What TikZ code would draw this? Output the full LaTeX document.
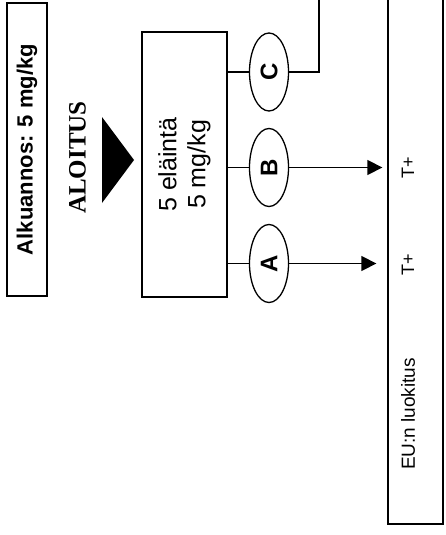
\documentclass[tikz,border=0pt]{standalone}
\usepackage{fontspec}
\setmainfont{Liberation Sans}
\newfontfamily\timesfont{Liberation Serif}
\usetikzlibrary{arrows.meta, positioning, shapes.geometric}

\begin{document}
\begin{tikzpicture}[x=1pt, y=-1pt, line width=1.3pt,
  box/.style={draw, rectangle, rotate=90, inner sep=0pt},
  oval/.style={draw, ellipse, rotate=90, minimum width=78pt, minimum height=39pt, inner sep=0pt, font=\fontsize{24}{24}\selectfont\bfseries},
  lbl/.style={rotate=90, inner sep=0pt},
  arr/.style={-{Triangle[length=15pt, width=15pt]}}]
  \useasboundingbox (0,0) rectangle (445,535);

  % start dose
  \node[box, minimum width=293pt, minimum height=40pt, font=\fontsize{22}{22}\selectfont\bfseries] (dose) at (27,149.5) {Alkuannos: 5 mg/kg};

  % start marker
  \node[lbl, font=\timesfont\fontsize{25}{25}\selectfont\bfseries] (start) at (77.5,157.5) {ALOITUS};
  \fill (102,117) -- (134,160) -- (102,203) -- cycle;

  % first group
  \node[box, minimum width=265pt, minimum height=85pt, align=center, font=\fontsize{25}{29}\selectfont] (group1) at (184.5,164.5) {5 eläintä\\5 mg/kg};

  % outcomes
  \foreach \lab/\y in {A/263.5, B/167.5, C/72}{
    \node[oval] (e\lab) at (269,\y) {\lab};
    \draw (group1.south |- e\lab) -- (e\lab.north);
  }

  % EU classification
  \node[box, minimum width=540pt, minimum height=55pt] (eu) at (415.5,254) {};
  \node[lbl, font=\fontsize{19}{19}\selectfont] (class) at (408,414) {EU:n luokitus};
  \node[lbl, font=\fontsize{18}{18}\selectfont] (tA) at (408,265) {T+};
  \node[lbl, font=\fontsize{18}{18}\selectfont] (tB) at (408,168) {T+};

  \draw[arr, shorten >=11pt] (eA.south) -- (eA.south -| eu.north);
  \draw[arr, shorten >=5pt] (eB.south) -- (eB.south -| eu.north);
  \coordinate (up) at (319,-2);
  \draw (eC.south) -| (up);
\end{tikzpicture}
\end{document}
